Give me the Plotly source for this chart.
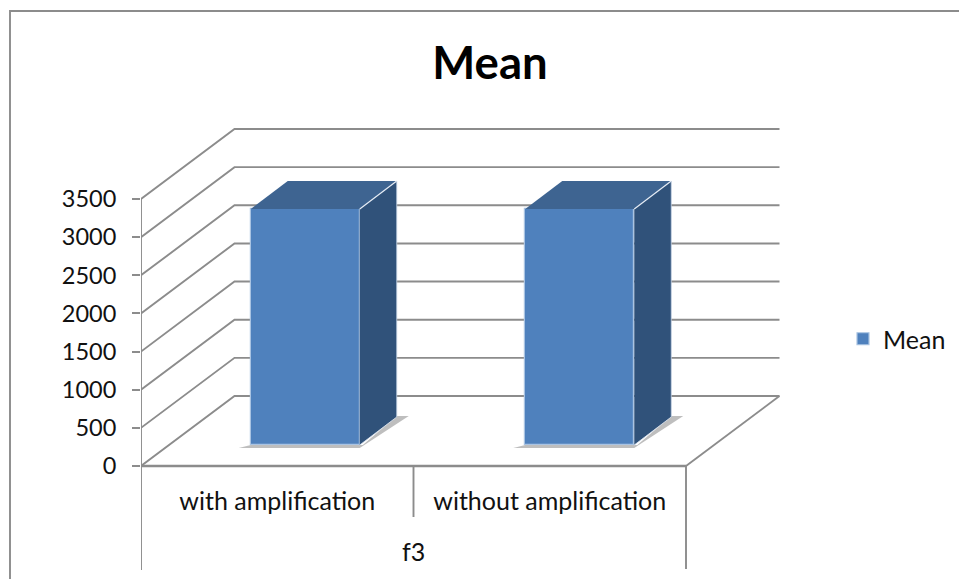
import plotly.graph_objects as go

# Data
categories = ["with amplification", "without amplification"]
group_label = "f3"
series_name = "Mean"
means = [3094, 3094]
y_ticks = [0, 500, 1000, 1500, 2000, 2500, 3000, 3500]

# Axis scale (figure pixels per axis unit)
W, H = 959, 579
L, R, T, B = 141, 179, 120, 4
PX_X = 272.5
PX_Y = 267 / 3500
x_range = [0, (W - L - R) / PX_X]
y_top = (466 - T) / PX_Y
y_bot = -(H - B - 466) / PX_Y


def dx(px):
    return px / PX_X


def dy(px):
    return px / PX_Y


def paper_x(px):
    return (px - L) / (W - L - R)


def paper_y(py):
    return 1 - (py - T) / (H - T - B)


GRID = "#8c8c8c"
BACK_X, BACK_Y = dx(93.5), dy(70)
BAR_W = dx(109)
BAR_SHIFTS = [dx(28), dx(30)]
BAR_BASE = dy(21)
DEPTH_X, DEPTH_Y = dx(37), dy(28)
x_end = 2

fig = go.Figure()


def line(xs, ys, width=1.9, color=GRID, z=0):
    fig.add_trace(go.Scatter(x=xs, y=ys, mode="lines", line=dict(color=color, width=width),
                             showlegend=False, hoverinfo="skip", cliponaxis=False, zorder=z))


def poly(xs, ys, fill, z=3):
    fig.add_trace(go.Scatter(x=xs + xs[:1], y=ys + ys[:1], mode="lines", fill="toself", fillcolor=fill,
                             line=dict(color=fill, width=0),
                             showlegend=False, hoverinfo="skip", cliponaxis=False, zorder=z))


# walls and gridlines
for v in y_ticks:
    line([0, BACK_X, x_end + BACK_X], [v, v + BACK_Y, v + BACK_Y])
line([x_end, x_end + BACK_X], [0, BACK_Y])
line([0, x_end], [0, 0], width=2.4)
line([0, 0], [dy(-104), y_ticks[-1]])
line([1, 1], [0, dy(-51)])
line([x_end, x_end], [0, dy(-103)])

# bars
centers = [i + 0.5 + BAR_SHIFTS[i] for i in range(len(categories))]
for c, v in zip(centers, means):
    l, r = c - BAR_W / 2, c + BAR_W / 2
    poly([l - dx(12), r, r + DEPTH_X + dx(12), r + DEPTH_X, r + dx(3), l],
         [BAR_BASE - dy(3), BAR_BASE - dy(3), BAR_BASE + DEPTH_Y + dy(1), BAR_BASE + DEPTH_Y + dy(1),
          BAR_BASE, BAR_BASE], "rgba(110,110,110,0.45)", z=1)

fig.add_trace(go.Bar(x=centers, y=means, base=BAR_BASE, width=BAR_W, name=series_name,
                     marker=dict(color="#4f81bd", line=dict(color="#a9c3e2", width=1.2)),
                     showlegend=True, hoverinfo="skip", zorder=2))

for c, v in zip(centers, means):
    l, r = c - BAR_W / 2, c + BAR_W / 2
    top = BAR_BASE + v
    poly([r, r + DEPTH_X, r + DEPTH_X, r], [BAR_BASE, BAR_BASE + DEPTH_Y, top + DEPTH_Y, top], "#30527a", z=3)
    poly([l, l + DEPTH_X, r + DEPTH_X, r], [top, top + DEPTH_Y, top + DEPTH_Y, top], "#3e6491", z=3)
    line([r, r + DEPTH_X], [top, top + DEPTH_Y], width=1.2, color="#e4ebf4", z=4)
    line([r + DEPTH_X, r + DEPTH_X], [top + DEPTH_Y, BAR_BASE + DEPTH_Y], width=0.8, color="#c5d3e4", z=4)
    line([r, r + DEPTH_X], [BAR_BASE, BAR_BASE + DEPTH_Y], width=0.8, color="#dfe7f1", z=4)

font = "Lato, Carlito, Calibri, sans-serif"
fig.update_layout(
    width=W, height=H, autosize=False,
    margin=dict(l=L, r=R, t=T, b=B, autoexpand=False),
    paper_bgcolor="white", plot_bgcolor="rgba(0,0,0,0)",
    font=dict(family=font, color="#111111", size=25),
    title=dict(text="<b>Mean</b>", x=490 / W, xanchor="center", y=1 - 63 / H, yanchor="middle",
               font=dict(size=45.5, color="black", family=font)),
    bargap=0, barmode="overlay",
    legend=dict(x=paper_x(843), y=paper_y(339), xanchor="left", yanchor="middle", itemwidth=30,
                font=dict(size=25), bgcolor="rgba(0,0,0,0)"),
    xaxis=dict(range=x_range, tickmode="array", tickvals=[0.5, 1.5], ticktext=categories,
               showgrid=False, zeroline=False, showline=False, ticks="",
               anchor="free", position=paper_y(484), tickfont=dict(size=25)),
    yaxis=dict(range=[y_bot, y_top], tickmode="array", tickvals=y_ticks, ticktext=[str(t) for t in y_ticks],
               showgrid=False, zeroline=False, showline=False, ticks="outside", ticklen=8,
               tickwidth=1.9, tickcolor=GRID, ticklabelstandoff=11, tickfont=dict(size=23.5)),
    annotations=[dict(text=group_label, x=1, y=dy(-85), xref="x", yref="y", showarrow=False,
                      font=dict(size=25), xanchor="center", yanchor="middle")],
    shapes=[dict(type="path", xref="paper", yref="paper", layer="below",
                 path=f"M {paper_x(10)} {paper_y(579)} L {paper_x(10)} {paper_y(11)} L {paper_x(959)} {paper_y(11)}",
                 line=dict(color="#8c8c8c", width=1.9))],
)
fig.write_html("out.html", config={"displayModeBar": False},
               post_script="document.body.style.margin='0';document.body.style.overflow='hidden';")
